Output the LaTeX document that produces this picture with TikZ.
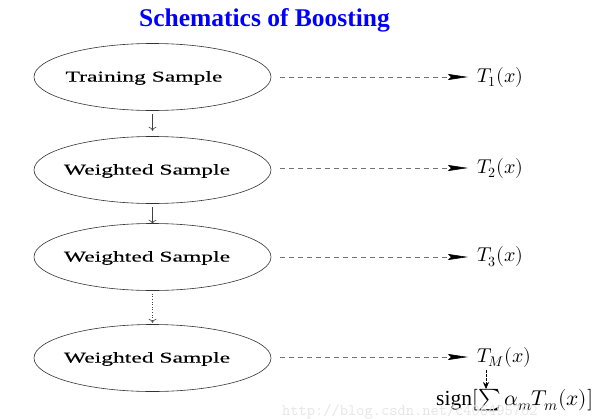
\documentclass[tikz,border=0pt]{standalone}
\usepackage{fontspec}
\setmainfont{Liberation Serif}
\usepackage{unicode-math}
\usetikzlibrary{arrows.meta,shapes.geometric}
\newfontfamily\titlefont{Liberation Serif}
\newfontfamily\sampfont[FakeBold=0.2]{Liberation Serif}
\begin{document}
\begin{tikzpicture}[x=1pt,y=-1pt,
  samp/.style={draw=black!80,line width=0.6pt,ellipse,minimum width=237pt,minimum height=67pt,inner sep=0pt},
  stxt/.style={inner sep=0pt,font=\sampfont\fontsize{15}{17}\selectfont},
  flow/.style={draw=black!75,line width=0.6pt,-{To[length=4pt,width=8pt]}},
  dflow/.style={flow,dotted},
  tree/.style={draw=black!55,line width=0.6pt,dash pattern=on 5pt off 4pt,shorten >=9pt,-{Stealth[length=20pt,width=6pt,inset=3pt,black]}},
  outlbl/.style={anchor=west,inner sep=0pt,font=\fontsize{20}{22}\selectfont},
  sgnlbl/.style={outlbl,font=\fontsize{21.5}{24}\selectfont},
  ttl/.style={font=\titlefont\bfseries\fontsize{25.5}{28}\selectfont,text=blue},
  wm/.style={font=\ttfamily\fontsize{16}{18}\selectfont,text=black!10,anchor=west,inner sep=0pt}]
\useasboundingbox (0,0) rectangle (600,418);
\node[ttl] (title) at (264.5,20) {Schematics of Boosting};
\node[samp] (s1) at (152.5,77) {};
\node[samp] (s2) at (152.5,170) {};
\node[samp] (s3) at (152.5,257) {};
\node[samp] (s4) at (152.5,358) {};
\node[stxt] (l1) at (144,78) {\scalebox{1.57}[1]{Training Sample}};
\node[stxt] (l2) at (147,171) {\scalebox{1.57}[1]{Weighted Sample}};
\node[stxt] (l3) at (147,258) {\scalebox{1.57}[1]{Weighted Sample}};
\node[stxt] (l4) at (147,359) {\scalebox{1.57}[1]{Weighted Sample}};
\node[outlbl] (t1) at (477,77) {$T_1(x)$};
\node[outlbl] (t2) at (477,168) {$T_2(x)$};
\node[outlbl] (t3) at (477,257) {$T_3(x)$};
\node[outlbl] (t4) at (477,357) {$T_M(x)$};
\node[sgnlbl] (sg) at (436,400) {$\mathrm{sign}[\textstyle\sum\alpha_m T_m(x)]$};
\node[wm] (w) at (282,412) {http://blog.csdn.net/c406495762};
\draw[flow] (s1.south) ++(0,3) -- ++(0,17);
\draw[flow] (s2.south) ++(0,3) -- ++(0,17);
\draw[dflow] (s3.south) ++(0,3) -- ++(0,29);
\draw[tree] (s1.east) ++(9,0) -- (t1.west);
\draw[tree] (s2.east) ++(9,-2) -- (t2.west);
\draw[tree] (s3.east) ++(9,0) -- (t3.west);
\draw[tree] (s4.east) ++(9,-1) -- (t4.west);
\coordinate (tb) at (486,370);
\coordinate (sb) at (486,389);
\draw[black,line width=0.6pt,dash pattern=on 2.5pt off 1.5pt,-{Stealth[length=7pt,width=6pt,black]}] (tb) -- (sb);
\end{tikzpicture}
\end{document}
